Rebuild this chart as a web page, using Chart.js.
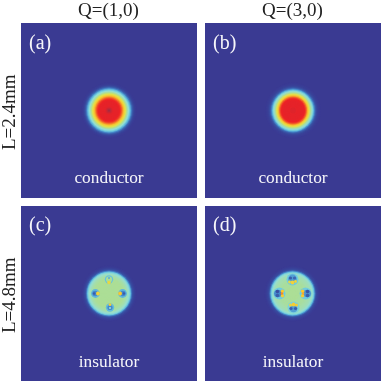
<!DOCTYPE html>
<html><head><meta charset="utf-8">
<style>
html,body{margin:0;padding:0;background:#fff;width:382px;height:384px;overflow:hidden}
canvas{position:absolute;display:block;filter:blur(0.55px)}
</style>
<script src="https://cdn.jsdelivr.net/npm/chart.js@4"></script>
</head><body>
<script>
// contour radii (image units) paired with heat levels 0..1 for each panel
const radii      = [28,27,26,25,24,23,22,21,20,19,18,17,16,15,14,13,12,11,10,9,8,7,6,5,4,3,2,1];
const levelsA    = [.01,.02,.04,.08,.14,.22,.31,.37,.42,.47,.53,.60,.66,.72,.78,.84,.88,.90,.91,.91,.91,.91,.91,.91,.92,.94,.97,1];
const levelsB    = [.01,.02,.03,.05,.09,.15,.24,.33,.40,.45,.51,.59,.66,.73,.81,.87,.90,.905,.91,.91,.91,.91,.91,.91,.91,.92,.92,.92];
const levelsC    = [.01,.02,.04,.07,.12,.22,.34,.40,.43,.45,.47,.48,.49,.50,.50,.50,.50,.50,.50,.50,.50,.50,.50,.50,.50,.50,.50,.50];
const levelsD    = [.01,.02,.04,.06,.11,.22,.34,.40,.43,.45,.46,.47,.47,.48,.48,.49,.49,.49,.49,.49,.49,.50,.50,.50,.50,.50,.50,.50];
// small structures: [x, y, radius, level]
const lobesC = [
 [0,14,4.2,.34],[0,14,3,.5],[0,15.5,1,.3],[0,11,1.8,.64],
 [13.5,0,4.4,.32],[13.8,0,2.8,.24],[14.8,0,1.2,.14],[11,0,1.9,.7],
 [-13.5,0,4.4,.32],[-13.8,0,2.8,.24],[-14.8,0,1.2,.14],[-11,0,1.9,.66],
 [1,-14,4.2,.33],[1,-14,2.6,.24],[1,-14.5,1.1,.42],[1,-11.2,1.4,.68]
];
const lobesD = [
 [0,14,6,.36],[0,14.5,4.4,.28],[-2,15.5,1.6,.14],[2,15.5,1.6,.16],[0,11,1.9,.66],[-3,11.5,1.4,.64],[3,12,1.4,.66],
 [13,0,6,.36],[14.5,0,3.8,.26],[15,2,1.8,.12],[15,-2,1.8,.14],[10,2.2,1.7,.7],[10,-2.2,1.7,.68],[10.5,0,1.2,.74],
 [-13,0,6,.36],[-14.5,0,3.8,.24],[-15,2,1.8,.1],[-15,-2,1.8,.14],[-10,2.2,1.7,.7],[-10,-2.2,1.7,.68],[-10.5,0,1.2,.78],
 [1,-14,6,.38],[1,-15,3.8,.28],[-1.5,-15,1.6,.14],[3,-15,1.6,.14],[1,-11,1.9,.68],[-2,-11.5,1.5,.66],[4,-11.5,1.5,.68]
];
const panelTags   = ['(a)','(b)','(c)','(d)'];
const phaseLabels = ['conductor','conductor','insulator','insulator'];
const columnTitles= ['Q=(1,0)','Q=(3,0)'];
const rowTitles   = ['L=2.4mm','L=4.8mm'];

const stops=[[0,[58,56,146]],[.12,[56,84,166]],[.25,[70,140,205]],[.35,[105,200,225]],[.42,[150,222,210]],[.5,[172,222,150]],[.6,[222,226,80]],[.7,[250,200,45]],[.8,[243,120,40]],[.9,[237,34,38]],[1,[165,45,65]]];
function heat(v){
  for(let i=1;i<stops.length;i++){ if(v<=stops[i][0]){
    const a=stops[i-1],b=stops[i],t=(v-a[0])/(b[0]-a[0]);
    return 'rgb('+a[1].map((c,k)=>Math.round(c+(b[1][k]-c)*t)).join(',')+')';
  }}
  return 'rgb(165,45,65)';
}
const serif='"Liberation Serif","Times New Roman",serif';
const panelText={id:'panelText',
  beforeDatasetsDraw(c){const {ctx,chartArea:a}=c;ctx.save();ctx.fillStyle='#3a3a92';ctx.fillRect(a.left,a.top,a.width,a.height);ctx.restore();},
  afterDatasetsDraw(c,args,o){const {ctx,chartArea:a}=c;ctx.save();ctx.fillStyle='#f6f6fa';ctx.font='20px '+serif;ctx.textBaseline='alphabetic';ctx.textAlign='left';
    ctx.fillText(o.tag,a.left+8,a.top+o.tagY);ctx.font='17.3px '+serif;ctx.textAlign='center';ctx.fillText(o.label,a.left+a.width/2,a.top+o.labelY);ctx.restore();}
};
function panel(box,levels,lobes,i,cx,cy,labelY,tagY){
  const cv=document.createElement('canvas');
  cv.style.left=box[0]+'px';cv.style.top=box[1]+'px';cv.style.width=box[2]+'px';cv.style.height=box[3]+'px';
  cv.width=box[2];cv.height=box[3];document.body.appendChild(cv);
  const rings=radii.map((r,k)=>({x:cx,y:cy,r:r}));
  const ringCols=levels.map(heat);
  const marks=lobes.map(l=>({x:cx+l[0],y:cy+l[1],r:l[2]}));
  const markCols=lobes.map(l=>heat(l[3]));
  new Chart(cv,{type:'bubble',plugins:[panelText],data:{datasets:[
    {label:'structure',data:marks,backgroundColor:markCols,borderWidth:0,order:0},
    {label:'field',data:rings,backgroundColor:ringCols,borderWidth:0,order:1}
  ]},options:{responsive:false,animation:false,
    layout:{autoPadding:false,padding:{left:box[4],top:box[5],right:box[6],bottom:box[7]}},
    plugins:{legend:{display:false},tooltip:{enabled:false},panelText:{tag:panelTags[i],label:phaseLabels[i],labelY:labelY,tagY:tagY}},
    scales:{x:{type:'linear',display:false,min:-87.5,max:87.5},y:{type:'linear',display:false,min:-87.5,max:87.5}}}});
}
panel([0,0,197,198,21,23,0,0],levelsA,[],0,0,0,160,26);
panel([200,0,182,198,5,23,1,0],levelsB,[],1,0,0,160,26);
panel([0,201,197,183,21,5,0,3],levelsC,lobesC,2,0,0,161,25);
panel([200,201,182,183,5,5,1,3],levelsD,lobesD,3,-0.5,0,161,25);
// column and row headings
function head(txt,style){const d=document.createElement('div');d.textContent=txt;d.style.cssText='position:absolute;color:#222;white-space:nowrap;filter:blur(0.3px);font:19px '+serif+';'+style;document.body.appendChild(d);}
head(columnTitles[0],'left:78px;top:-1px');
head(columnTitles[1],'left:262px;top:-1px');
head(rowTitles[0],'left:-2px;top:150px;transform-origin:0 0;transform:rotate(-90deg);');
head(rowTitles[1],'left:-2px;top:333px;transform-origin:0 0;transform:rotate(-90deg);');
</script>
</body></html>
